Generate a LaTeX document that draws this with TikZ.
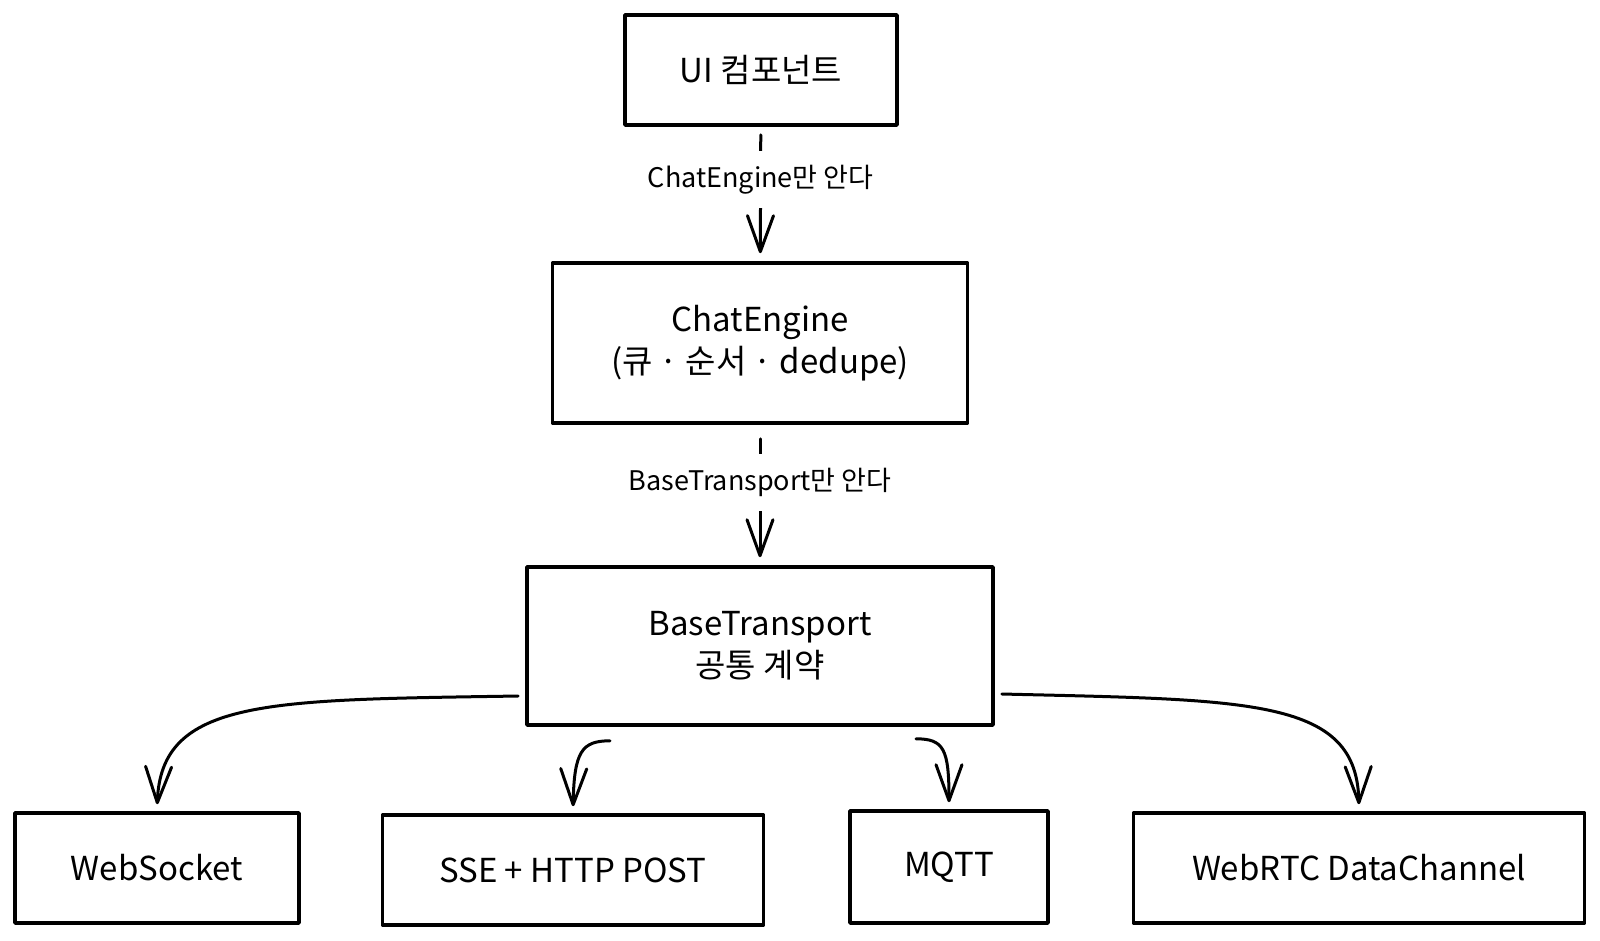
\documentclass[tikz,border=0pt]{standalone}
\usepackage{fontspec}
\setmainfont{Noto Sans CJK KR}
\usetikzlibrary{arrows.meta}

\begin{document}
\begin{tikzpicture}[x=1pt,y=-1pt,
    box/.style={draw, line width=3.6pt, line join=round, align=center, font=\fontsize{33}{42}\selectfont},
    link/.style={line width=3pt, line cap=round, -{Straight Barb[length=36pt,width=26pt,round]}},
    tag/.style={fill=white, inner xsep=4pt, inner ysep=14pt, font=\fontsize{27}{30}\selectfont}]
    \useasboundingbox (0,0) rectangle (1600,940);
    \node[box, minimum width=272pt, minimum height=110pt] (ui) at (761,70) {UI 컴포넌트};
    \node[box, minimum width=415pt, minimum height=160pt] (chat) at (760,343) {ChatEngine\\(큐 · 순서 · dedupe)};
    \node[box, minimum width=466pt, minimum height=158pt] (base) at (760,646) {BaseTransport\\공통 계약};
    \node[box, minimum width=284pt, minimum height=110pt] (ws) at (157,868) {WebSocket};
    \node[box, minimum width=381pt, minimum height=110pt] (sse) at (573,870) {SSE + HTTP POST};
    \node[box, minimum width=198pt, minimum height=112pt] (mqtt) at (949,867) {MQTT};
    \node[box, minimum width=451pt, minimum height=110pt] (rtc) at (1359,868) {WebRTC DataChannel};
    \draw[link, shorten <=8pt, shorten >=8pt] (ui) -- (chat) node[tag, pos=0.39] {ChatEngine만 안다};
    \draw[link, shorten <=14pt, shorten >=8pt] (chat) -- (base) node[tag, pos=0.41] {BaseTransport만 안다};
    \coordinate (wsfrom) at ([xshift=-7pt,yshift=-50pt]base.west);
    \coordinate (ssefrom) at ([xshift=-150pt,yshift=-14pt]base.south);
    \coordinate (mqttfrom) at ([xshift=156pt,yshift=-12pt]base.south);
    \coordinate (rtcfrom) at ([xshift=7pt,yshift=-48pt]base.east);
    \draw[link, shorten >=7pt] (wsfrom) .. controls +(-250,4) and +(4,-113) .. (ws.north);
    \draw[link, shorten >=7pt] (ssefrom) .. controls +(-28,0) and +(1,-62) .. (sse.north);
    \draw[link, shorten >=7pt] (mqttfrom) .. controls +(28,0) and +(0,-60) .. (mqtt.north);
    \draw[link, shorten >=7pt] (rtcfrom) .. controls +(250,6) and +(-2,-113) .. (rtc.north);
\end{tikzpicture}
\end{document}
